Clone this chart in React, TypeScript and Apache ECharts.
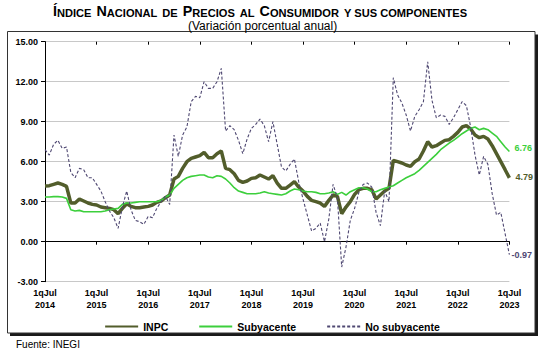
import React, { useEffect, useRef } from "react";
import * as echarts from "echarts";

const MONTHS = ["Ene", "Feb", "Mar", "Abr", "May", "Jun", "Jul", "Ago", "Sep", "Oct", "Nov", "Dic"];
const START_YEAR = 2014;
const START_MONTH = 6; // Jul
const N_POINTS = 109;
const categories: string[] = [];
for (let i = 0; i < N_POINTS; i++) {
  const m = (START_MONTH + i) % 12;
  const y = START_YEAR + Math.floor((START_MONTH + i) / 12);
  categories.push(`1q${MONTHS[m]}\n${y}`);
}

const yTicks = [-3, 0, 3, 6, 9, 12, 15];

const inpc = [
  4.18, 4.2, 4.3, 4.4, 4.3, 4.15, 2.9, 2.9, 3.2, 3.05, 2.9, 2.8,
  2.75, 2.6, 2.55, 2.5, 2.4, 2.1, 2.5, 2.85, 2.65, 2.55, 2.55, 2.6,
  2.65, 2.75, 2.95, 3.05, 3.3, 3.5, 4.7, 4.9, 5.5, 6.0, 6.25, 6.35,
  6.45, 6.7, 6.3, 6.3, 6.6, 6.8, 5.5, 5.4, 5.1, 4.6, 4.45, 4.55,
  4.75, 4.8, 5.0, 4.85, 4.7, 4.95, 4.4, 4.0, 4.0, 4.25, 4.5, 4.1,
  3.8, 3.4, 3.1, 3.0, 2.9, 2.65, 3.1, 3.5, 3.4, 2.1, 2.6, 3.0,
  3.55, 3.9, 4.0, 4.0, 3.9, 3.2, 3.5, 3.8, 4.0, 6.1, 6.0, 5.9,
  5.75, 5.65, 6.0, 6.2, 6.8, 7.5, 7.1, 7.2, 7.4, 7.6, 7.65, 7.9,
  8.2, 8.6, 8.7, 8.45, 8.0, 7.8, 7.9, 7.7, 7.2, 6.6, 6.0, 5.4,
  4.79,
];

const subyacente = [
  3.35, 3.35, 3.38, 3.38, 3.35, 3.25, 2.4, 2.3, 2.35, 2.25, 2.25, 2.25,
  2.25, 2.25, 2.3, 2.4, 2.45, 2.5, 2.8, 2.9, 2.9, 2.95, 3.0, 3.0,
  3.0, 3.0, 3.0, 3.1, 3.35, 3.5, 4.0, 4.3, 4.6, 4.8, 4.9, 4.95,
  5.0, 5.0, 4.85, 4.8, 4.95, 4.9, 4.7, 4.4, 4.05, 3.8, 3.7, 3.6,
  3.6, 3.6, 3.65, 3.75, 3.65, 3.6, 3.55, 3.5, 3.6, 3.8, 3.95, 3.9,
  3.8, 3.75, 3.75, 3.7, 3.6, 3.6, 3.65, 3.75, 3.55, 3.7, 3.5, 3.75,
  3.9, 4.05, 4.05, 3.95, 3.75, 3.75, 3.9, 4.0, 4.1, 4.2, 4.4, 4.6,
  4.8, 4.95, 5.1, 5.35, 5.65, 5.95, 6.25, 6.55, 6.9, 7.15, 7.4, 7.6,
  7.85, 8.1, 8.3, 8.5, 8.6, 8.4, 8.5, 8.4, 8.15, 7.9, 7.5, 7.1,
  6.76,
];

const noSubyacente = [
  6.9, 6.5, 7.3, 7.6, 7.0, 7.1, 5.2, 4.8, 5.5, 5.4, 4.8, 4.8,
  4.3, 3.8, 3.0, 2.3, 1.8, 1.0, 2.6, 3.8, 2.4, 1.6, 1.5, 1.3,
  1.9, 1.8, 2.5, 3.0, 3.4, 2.8, 8.0, 6.4, 8.0, 8.6, 10.5, 10.9,
  10.8, 12.0, 11.5, 11.5, 12.0, 13.0, 8.3, 8.7, 8.4, 7.6, 6.6, 7.7,
  8.5, 8.8, 9.2, 8.7, 7.5, 9.0, 7.3, 5.6, 5.3, 5.8, 6.2, 4.5,
  3.2, 2.0, 0.8, 1.0, 1.4, 0.0, 1.7, 4.3, 3.3, -1.9, -0.4, 1.6,
  2.5, 3.7, 4.3, 4.4, 4.1, 2.2, 1.2, 3.8, 3.0, 12.3, 11.0, 10.4,
  9.5, 8.3, 9.4, 9.9, 10.5, 13.5, 10.6, 9.3, 9.5, 9.4, 8.8, 9.3,
  9.9, 10.5, 10.2, 8.6, 6.5, 5.0, 6.4, 5.8, 3.6, 2.0, 2.2, 0.6,
  -0.97,
];

const FONT = "'Liberation Sans', Arial, Helvetica, sans-serif";
const C_INPC = "#525d2b";
const C_SUB = "#3ccf3c";
const C_NOSUB = "#4f4872";

export default function App() {
  const ref = useRef<HTMLDivElement>(null);
  useEffect(() => {
    document.body.style.margin = "0";
    if (!ref.current) return;
    const chart = echarts.init(ref.current, null, { renderer: "svg" });
    const lastIdx = categories.length - 1;
    const lastLabel = (values: number[], color: string, offset: number[]) => ({
      symbol: "circle",
      symbolSize: 0,
      silent: true,
      label: {
        show: true,
        position: "right",
        distance: 5,
        formatter: (p: any) => Number(p.value).toFixed(2),
        color,
        fontWeight: "bold",
        fontSize: 9,
        fontFamily: FONT,
        offset,
      },
      data: [{ coord: [categories[lastIdx], values[lastIdx]], value: values[lastIdx] }],
    });
    chart.setOption({
      animation: false,
      backgroundColor: "#ffffff",
      textStyle: { fontFamily: FONT },
      title: [
        {
          left: 53,
          top: 0,
          padding: 0,
          text: "{b|Í}{s|NDICE} {b|N}{s|ACIONAL} {s|DE} {b|P}{s|RECIOS} {s|AL} {b|C}{s|ONSUMIDOR} {s|Y SUS COMPONENTES}",
          textStyle: {
            rich: {
              b: { fontSize: 14.3, fontWeight: "bold", color: "#000", fontFamily: FONT, lineHeight: 17, verticalAlign: "bottom" },
              s: { fontSize: 11.1, fontWeight: "bold", color: "#000", fontFamily: FONT, lineHeight: 17, verticalAlign: "bottom" },
            },
          },
        },
        {
          left: 188,
          top: 19,
          padding: 0,
          text: "(Variación porcentual anual)",
          textStyle: { fontSize: 12, fontWeight: "normal", color: "#000", fontFamily: FONT, lineHeight: 13 },
        },
      ],
      graphic: [
        { type: "rect", z: -10, shape: { x: 10, y: 34.5, width: 528, height: 301.5 }, style: { fill: "#1a1a1a" } },
        { type: "rect", z: -9, shape: { x: 7.5, y: 31.5, width: 527.5, height: 301.5 }, style: { fill: "#ffffff", stroke: "#333333", lineWidth: 1 } },
        { type: "text", z: 10, left: 16, top: 339, style: { text: "Fuente: INEGI", font: `10px ${FONT}`, fill: "#000" } },
      ],
      legend: {
        top: 316,
        left: "center",
        itemWidth: 33,
        itemHeight: 8,
        itemGap: 30,
        itemStyle: { opacity: 0 },
        textStyle: { fontSize: 10.5, fontWeight: "bold", color: "#000", fontFamily: FONT },
        data: ["INPC", "Subyacente", "No subyacente"],
      },
      grid: { left: 45, top: 41.7, width: 464.4, height: 240, containLabel: false },
      xAxis: [
        {
          type: "category",
          data: categories,
          boundaryGap: false,
          axisLine: { show: true, onZero: true, lineStyle: { color: "#000", width: 1 } },
          axisTick: { show: true, interval: 11, length: 3, inside: false, lineStyle: { color: "#000" } },
          axisLabel: { show: false },
          splitLine: { show: false },
        },
        {
          type: "category",
          data: categories,
          boundaryGap: false,
          axisLine: { show: false, onZero: true },
          axisTick: { show: true, interval: 11, length: 3, inside: true, lineStyle: { color: "#000" } },
          axisLabel: { show: false },
          splitLine: { show: false },
        },
        {
          type: "category",
          data: categories,
          boundaryGap: false,
          position: "bottom",
          axisLine: { show: false, onZero: false },
          axisTick: { show: false },
          axisLabel: {
            show: true,
            interval: 11,
            fontSize: 9,
            fontWeight: "bold",
            color: "#000",
            fontFamily: FONT,
            lineHeight: 11.5,
            margin: 6,
          },
          splitLine: { show: false },
        },
      ],
      yAxis: {
        type: "value",
        min: yTicks[0],
        max: yTicks[yTicks.length - 1],
        interval: 3,
        axisLine: { show: true, lineStyle: { color: "#000", width: 1 } },
        axisTick: { show: true, length: 4, lineStyle: { color: "#000" } },
        axisLabel: {
          formatter: (v: number) => v.toFixed(2),
          fontSize: 9,
          fontWeight: "bold",
          color: "#000",
          fontFamily: FONT,
          margin: 7,
        },
        splitLine: { show: true, lineStyle: { color: "#c8c8c8", width: 1 } },
      },
      series: [
        {
          name: "INPC",
          type: "line",
          data: inpc,
          xAxisIndex: 0,
          symbol: "none",
          lineStyle: { color: C_INPC, width: 3.5 },
          itemStyle: { color: C_INPC },
          markPoint: lastLabel(inpc, C_INPC, [1, -1]),
          z: 3,
        },
        {
          name: "Subyacente",
          type: "line",
          data: subyacente,
          xAxisIndex: 0,
          symbol: "none",
          lineStyle: { color: C_SUB, width: 1.6 },
          itemStyle: { color: C_SUB },
          markPoint: lastLabel(subyacente, C_SUB, [0, -4]),
          z: 4,
        },
        {
          name: "No subyacente",
          type: "line",
          data: noSubyacente,
          xAxisIndex: 0,
          symbol: "none",
          lineStyle: { color: C_NOSUB, width: 1.1, type: [3, 2] },
          itemStyle: { color: C_NOSUB },
          markPoint: lastLabel(noSubyacente, C_NOSUB, [-3, 0.5]),
          z: 5,
        },
      ],
    });
    return () => chart.dispose();
  }, []);
  return <div ref={ref} style={{ width: 544, height: 357 }} />;
}
